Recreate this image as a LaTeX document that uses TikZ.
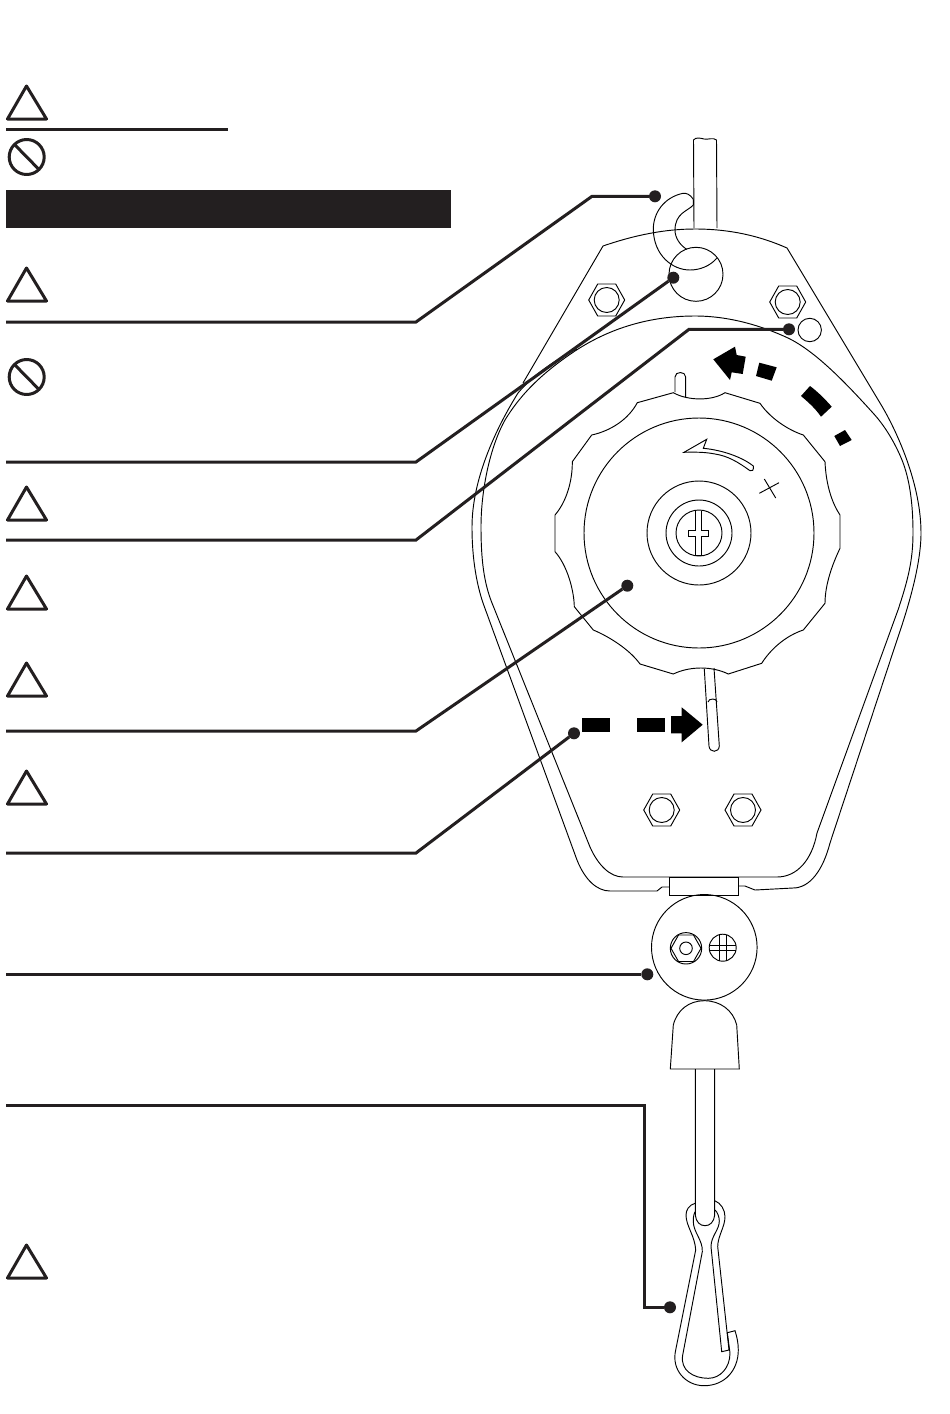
\documentclass[tikz,border=0pt]{standalone}
\usepackage{amsmath}
\usetikzlibrary{positioning}
\definecolor{inkblack}{HTML}{231F20}
\tikzset{
WIRE/.style ={draw=black,line join=miter,line cap=butt,line width=0.55mm*0.6},
LEADER/.style ={draw=inkblack,line join=miter,line cap=butt,line width=3pt},
DOT/.style ={circle,fill=inkblack,draw=none,inner sep=0pt,outer sep=0pt,minimum size=12pt},
SIGN/.style ={draw=inkblack,line join=round,line width=3pt},
SOLID/.style ={fill=black,draw=none},
}
\begin{document}
\begin{tikzpicture}
[x=1pt,y=-1pt]
	\useasboundingbox (0,0) rectangle (950,1414);
	%Warning signs
	\foreach \ty in {86,268,487,576,663,771,1245}
		\path[SIGN] (26.5,\ty) -- (7.5,\ty+33) -- (46.5,\ty+33) -- cycle;
	\foreach \py in {157,377} {
		\path[SIGN] (26.7,\py) circle[radius=17.5];
		\path[SIGN] (14.5,\py-12.5) -- (39,\py+12.5);
	}
	\path[LEADER] (6,129.5) -- (228,129.5);
	\fill[inkblack] (6,190) rectangle (451,228);
	%Rope and hook
	\path[WIRE] (694,228) -- (693.5,140) .. controls (696,137) and (700,138) .. (704,139)
		.. controls (708,140) and (713,137) .. (716.5,140) -- (717,228);
	\path[WIRE] (693.3,199.3) .. controls (690,194) and (686,193) .. (683,193.3)
		.. controls (665,197) and (653,212) .. (653.3,230)
		.. controls (654,255) and (672,270) .. (690,270)
		.. controls (700,270) and (710,266) .. (716.7,258.3);
	\path[WIRE] (693.3,199.3) -- (693.3,205) .. controls (688,211) and (675,213) .. (675,230)
		.. controls (675,238) and (680,245) .. (686.7,249.3);
	%Plate
	\path[WIRE] (523,383) -- (603,246) .. controls (635,235) and (665,229) .. (695,229)
		.. controls (730,229) and (760,236) .. (787,248) -- (880,403);
	\path[WIRE] (696,274.3) circle[radius=27];
	\path[WIRE] (809.7,330) circle[radius=11.7];
	%Nuts
	\foreach \cx/\cy in {606.7/300,787.7/302,661.7/810,743/810} {
		\path[WIRE] (\cx-18,\cy) -- (\cx-9,\cy-16) -- (\cx+9,\cy-16) -- (\cx+18,\cy)
			-- (\cx+9,\cy+16) -- (\cx-9,\cy+16) -- cycle;
		\path[WIRE] (\cx,\cy) circle[radius=12.5];
	}
	%Housing, inner line
	\path[WIRE] (695,316) .. controls (650,316) and (610,328) .. (575,351)
		.. controls (545,371) and (522,392) .. (505,420)
		.. controls (490,447) and (481,490) .. (481,527)
		.. controls (481,560) and (484,583) .. (492,603)
		-- (590,847) .. controls (598,865) and (610,877) .. (623,877)
		-- (777,877) .. controls (797,877) and (812,860) .. (817,833)
		-- (898,610) .. controls (908,580) and (913,560) .. (913,533)
		.. controls (913,505) and (910,480) .. (902,460)
		.. controls (895,443) and (885,426) .. (873,413)
		.. controls (845,382) and (815,351) .. (788,338)
		.. controls (760,325) and (728,316) .. (695,316);
	%Housing, outer line
	\path[WIRE] (880,403) .. controls (893,424) and (921,480) .. (921,533)
		.. controls (921,565) and (908,608) .. (897,640)
		-- (830,843) .. controls (823,870) and (810,888) .. (793,888)
		-- (755,890) -- (745,886) -- (738.7,886);
	\path[WIRE] (669,887) -- (662,887) -- (657,891) -- (610,891)
		.. controls (597,891) and (585,880) .. (577,860)
		-- (483,603) .. controls (477,585) and (472,560) .. (472,527)
		.. controls (472,480) and (495,430) .. (518,393)
		.. controls (533,375) and (555,360) .. (577,349);
	%Knob
	\path[WIRE] (673.3,392.7) -- (637.3,402.7) .. controls (628,420) and (610,431) .. (591.7,435)
		-- (572.3,461.7) .. controls (572.5,480) and (567,501) .. (555,515)
		-- (555,551.7) .. controls (567,565) and (574,590) .. (574.3,606.7)
		-- (593.3,630) .. controls (610,637) and (630,650) .. (640,664)
		-- (673.3,674) .. controls (690,666) and (712,666) .. (728.3,674)
		-- (761.7,663.3) .. controls (770,650) and (785,636) .. (803.3,630)
		-- (825,603.3) .. controls (825,585) and (832,565) .. (840,548.3)
		-- (840,515) .. controls (832,503) and (826,485) .. (825,461.7)
		-- (803.3,435) .. controls (788,430) and (770,418) .. (760,403.3)
		-- (725,392.7) .. controls (712,401) and (688,401) .. (673.3,392.7) -- cycle;
	\foreach \rr in {115,52,33,23}
		\path[WIRE] (699,533) circle[radius=\rr];
	\path[WIRE] (695.7,510.7) -- (695.7,530.3) -- (688.3,530.3) -- (688.3,536.7) -- (695.7,536.7)
		-- (695.7,555.7) -- (701.7,555.7) -- (701.7,536.7) -- (708.3,536.7) -- (708.3,530.3)
		-- (701.7,530.3) -- (701.7,510.7);
	\path[WIRE] (684,452.3) -- (706.7,439.3) -- (703.3,448.3)
		.. controls (722,450) and (742,457) .. (753.3,466)
		.. controls (754,470) and (752,472) .. (750,470.7)
		.. controls (738,462) and (728,456) .. (715,454) .. controls (705,452) and (695,452) .. (684,452.3) -- cycle;
	\path[WIRE] (764.3,479) -- (775.7,498);
	\path[WIRE] (759.3,493.3) -- (779,482.7);
	%Slots
	\path[WIRE] (675,392) -- (675,377) .. controls (675,371) and (685.7,371) .. (685.7,377) -- (685.7,397);
	\path[WIRE] (704.3,669) -- (709,746) .. controls (709.5,753) and (719,753) .. (719.3,746) -- (714,668);
	\path[WIRE] (708,702) .. controls (708.5,698) and (717,698) .. (717,702);
	%Direction arrows
	\path[SOLID] (713.3,359.3) -- (735,346.7) -- (736.7,355) -- (745.7,356.7) -- (742.7,374)
		-- (731.7,372.3) -- (730,380) -- cycle;
	\path[SOLID] (759.3,362.7) -- (776.7,367.3) -- (771.7,380.7) -- (756,376) -- cycle;
	\path[SOLID] (810,386) .. controls (818,392) and (825,399) .. (831.7,406.7) -- (821,416.7)
		.. controls (815,408) and (808,402) .. (801,396) -- cycle;
	\path[SOLID] (845,430) -- (851.7,440) -- (840,446) -- (834.3,436) -- cycle;
	\path[SOLID] (582.3,718) rectangle (610,732);
	\path[SOLID] (637,718) rectangle (664.7,732);
	\path[SOLID] (671,716) -- (681.7,716) -- (681.7,707.3) -- (702.7,724.7) -- (681.7,742.3)
		-- (681.7,733.3) -- (671,733.3) -- cycle;
	%Swivel
	\path[WIRE] (669,877.3) rectangle (738.7,895.3);
	\path[WIRE] (704.3,947.3) circle[radius=52.8];
	\path[WIRE] (686,948.3) circle[radius=15.7];
	\path[WIRE] (686,948.3) circle[radius=6.3];
	\path[WIRE] (671,948.3) -- (678.5,935) -- (693.5,935) -- (701,948.3) -- (693.5,961.5) -- (678.5,961.5) -- cycle;
	\path[WIRE] (722.7,947.7) circle[radius=13.5];
	\path[WIRE] (719.3,934.7) -- (719.3,960.7);
	\path[WIRE] (726,934.7) -- (726,960.7);
	\path[WIRE] (709.3,945) -- (736.1,945);
	\path[WIRE] (709.3,950) -- (736.1,950);
	%Bell
	\path[WIRE] (670.3,1069) -- (739.3,1069) -- (736.7,1025) .. controls (733,1010) and (720,1000.7) .. (704.3,1000.7)
		.. controls (689,1000.7) and (677,1010) .. (673.3,1025) -- cycle;
	%Lower rope and clip
	\path[WIRE] (695.3,1069) -- (695.3,1215) .. controls (696,1222) and (700,1225.7) .. (705,1225.7)
		.. controls (710,1225.7) and (714,1222) .. (714.7,1215) -- (714.7,1069);
	\path[WIRE] (695,1203.3) .. controls (689,1205) and (686,1210) .. (686,1215)
		.. controls (686,1226) and (695,1236) .. (695.7,1250)
		-- (675.7,1350) .. controls (671,1370) and (686,1385.7) .. (704,1385.7)
		.. controls (725,1385.7) and (738.3,1370) .. (738.3,1350)
		.. controls (738.3,1343) and (737,1337) .. (735,1330.7) -- (727.3,1332.7) -- (730,1353)
		.. controls (730,1368) and (720,1378.3) .. (708.3,1378.3)
		.. controls (693,1378.3) and (680,1370) .. (682.7,1355)
		-- (702.3,1251.7) .. controls (703,1240) and (693,1232) .. (693.3,1221)
		.. controls (693.3,1216) and (694,1214) .. (695,1211.7);
	\path[WIRE] (714.7,1200.7) .. controls (721,1203) and (725,1210) .. (725,1216.7)
		.. controls (725,1227) and (717.7,1236) .. (717.7,1246.7)
		-- (729,1350) -- (721.7,1351.7) -- (711,1246.7)
		.. controls (711,1236) and (719.3,1230) .. (719.3,1221)
		.. controls (719.3,1217) and (717.5,1212) .. (715,1210);
	%Leaders
	\node[DOT] (hookdot) at (655,196.3) {};
	\node[DOT] (holedot) at (673.3,277.7) {};
	\node[DOT] (pindot) at (789,329.3) {};
	\node[DOT] (knobdot) at (627.3,585.7) {};
	\node[DOT] (ropedot) at (574,733.3) {};
	\node[DOT] (balldot) at (647.3,974.3) {};
	\node[DOT] (clipdot) at (670,1307.3) {};
	\coordinate (hookstart) at (6,322);
	\coordinate (hookbend) at (416,322);
	\coordinate (hookknee) at (592,196.3);
	\coordinate (holestart) at (6,462);
	\coordinate (holebend) at (416,462);
	\coordinate (pinstart) at (6,540);
	\coordinate (pinbend) at (416,540);
	\coordinate (pinknee) at (689,329.3);
	\coordinate (knobstart) at (6,731);
	\coordinate (knobbend) at (416,731);
	\coordinate (ropestart) at (6,853);
	\coordinate (ropebend) at (416,853);
	\coordinate (ballstart) at (6,974.3);
	\coordinate (clipstart) at (6,1105);
	\coordinate (clipbend) at (644,1105);
	\coordinate (clipknee) at (644,1307.3);
	\draw[LEADER] (hookstart) -- (hookbend) -- (hookknee) -- (hookdot);
	\draw[LEADER] (holestart) -- (holebend) -- (holedot);
	\draw[LEADER] (pinstart) -- (pinbend) -- (pinknee) -- (pindot);
	\draw[LEADER] (knobstart) -- (knobbend) -- (knobdot);
	\draw[LEADER] (ropestart) -- (ropebend) -- (ropedot);
	\draw[LEADER] (ballstart) -- (balldot);
	\draw[LEADER] (clipstart) -- (clipbend) -- (clipknee) -- (clipdot);
\end{tikzpicture}
\end{document}
